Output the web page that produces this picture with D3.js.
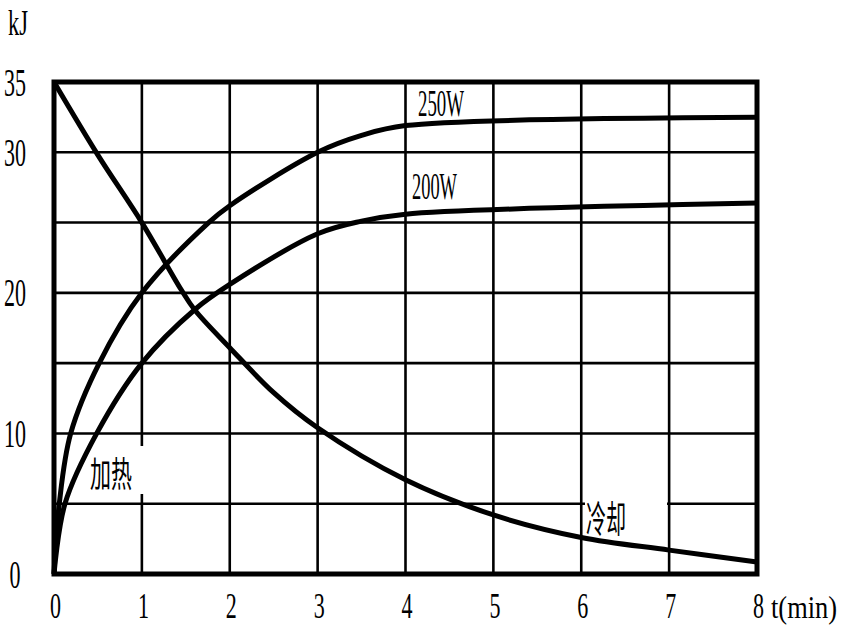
<!DOCTYPE html>
<html>
<head>
<meta charset="utf-8">
<script src="https://cdn.jsdelivr.net/npm/d3@7"></script>
<style>
  body { margin: 0; background: #fff; }
  text { font-family: "Liberation Serif", serif; fill: #000; }
  .cjk { font-family: "Noto Sans CJK SC", sans-serif; }
</style>
</head>
<body>
<script>
// tick labels
const xTicks = [0, 1, 2, 3, 4, 5, 6, 7, 8];
const yTicks = [0, 10, 20, 30, 35];
const gridX = [1, 2, 3, 4, 5, 6, 7];
const gridY = [5, 10, 15, 20, 25, 30];

// 250W heating curve (t in min, energy in kJ)
const t250 = [0, 0.06, 0.19, 0.515, 1, 1.76, 2, 3, 3.5, 4, 8];
const e250 = [0, 5, 10, 15, 20, 25, 26.2, 30, 31.2, 31.9, 32.5];

// 200W heating curve
const t200 = [0, 0.125, 0.486, 1, 1.6, 2, 3, 3.5, 4, 8];
const e200 = [0, 5, 10, 15, 18.8, 20.6, 24.2, 25.1, 25.6, 26.4];

// cooling curve
const tCool = [0, 0.5, 1, 1.45, 1.6, 2, 2.5, 3, 4, 5, 6, 7, 8];
const eCool = [35, 29.8, 25, 20.2, 18.8, 16.1, 12.9, 10.4, 6.7, 4.2, 2.6, 1.7, 0.85];

const width = 853, height = 644;

const svg = d3.select("body").append("svg")
    .attr("width", width)
    .attr("height", height);

const x = d3.scaleLinear().domain([0, 8]).range([54, 757]);
const y = d3.scaleLinear().domain([0, 35]).range([574, 82]);

// grid
svg.append("g")
    .selectAll("line")
    .data(gridX)
    .join("line")
    .attr("x1", d => x(d)).attr("x2", d => x(d))
    .attr("y1", y(35)).attr("y2", y(0))
    .attr("stroke", "#000")
    .attr("stroke-width", 2.6);

svg.append("g")
    .selectAll("line")
    .data(gridY)
    .join("line")
    .attr("x1", x(0)).attr("x2", x(8))
    .attr("y1", d => y(d)).attr("y2", d => y(d))
    .attr("stroke", "#000")
    .attr("stroke-width", 2.6);

// white boxes behind the two labels
svg.append("rect")
    .attr("x", 85).attr("y", 446)
    .attr("width", 61).attr("height", 48)
    .attr("fill", "#fff");
svg.append("rect")
    .attr("x", 585).attr("y", 497)
    .attr("width", 82).attr("height", 37)
    .attr("fill", "#fff");

svg.append("text")
    .attr("class", "cjk")
    .attr("x", 90).attr("y", 487)
    .attr("font-size", 35)
    .attr("textLength", 42)
    .attr("lengthAdjust", "spacingAndGlyphs")
    .text("加热");

svg.append("text")
    .attr("class", "cjk")
    .attr("x", 586).attr("y", 533)
    .attr("font-size", 37)
    .attr("textLength", 40)
    .attr("lengthAdjust", "spacingAndGlyphs")
    .text("冷却");

// curves (centripetal catmull-rom copes with the uneven spacing near t=0)
const line = d3.line()
    .x(d => x(d[0]))
    .y(d => y(d[1]))
    .curve(d3.curveCatmullRom.alpha(0.5));

const series = [
    d3.zip(t250, e250),
    d3.zip(t200, e200),
    d3.zip(tCool, eCool)
];

svg.append("g")
    .selectAll("path")
    .data(series)
    .join("path")
    .attr("d", line)
    .attr("fill", "none")
    .attr("stroke", "#000")
    .attr("stroke-width", 5)
    .attr("stroke-linejoin", "round");

// frame
svg.append("rect")
    .attr("x", x(0)).attr("y", y(35))
    .attr("width", x(8) - x(0))
    .attr("height", y(0) - y(35))
    .attr("fill", "none")
    .attr("stroke", "#000")
    .attr("stroke-width", 5);

// axes (labels only)
const xAxis = svg.append("g")
    .attr("transform", "translate(0," + y(0) + ")")
    .call(d3.axisBottom(x).tickValues(xTicks).tickSize(0).tickFormat(d3.format("d")));
xAxis.select(".domain").remove();
xAxis.selectAll("text")
    .attr("font-family", "Liberation Serif")
    .attr("font-size", 36)
    .attr("x", 1)
    .attr("y", 44)
    .attr("dy", 0)
    .attr("textLength", d => String(d).length * 11)
    .attr("lengthAdjust", "spacingAndGlyphs");

const yAxis = svg.append("g")
    .attr("transform", "translate(" + x(0) + ",0)")
    .call(d3.axisLeft(y).tickValues(yTicks).tickSize(0).tickFormat(d3.format("d")));
yAxis.select(".domain").remove();
yAxis.selectAll("text")
    .attr("font-family", "Liberation Serif")
    .attr("font-size", 40)
    .attr("text-anchor", "middle")
    .attr("x", -39)
    .attr("dy", 13)
    .attr("textLength", d => String(d).length * 11)
    .attr("lengthAdjust", "spacingAndGlyphs");

// axis titles and series labels
svg.append("text")
    .attr("x", 8).attr("y", 35)
    .attr("font-size", 35)
    .attr("textLength", 20)
    .attr("lengthAdjust", "spacingAndGlyphs")
    .text("kJ");

svg.append("text")
    .attr("x", 771).attr("y", 618)
    .attr("font-size", 31)
    .attr("textLength", 66)
    .attr("lengthAdjust", "spacingAndGlyphs")
    .text("t(min)");

svg.append("text")
    .attr("x", 418).attr("y", 116)
    .attr("font-size", 38)
    .attr("textLength", 46)
    .attr("lengthAdjust", "spacingAndGlyphs")
    .text("250W");

svg.append("text")
    .attr("x", 412).attr("y", 199)
    .attr("font-size", 38)
    .attr("textLength", 45)
    .attr("lengthAdjust", "spacingAndGlyphs")
    .text("200W");
</script>
</body>
</html>
